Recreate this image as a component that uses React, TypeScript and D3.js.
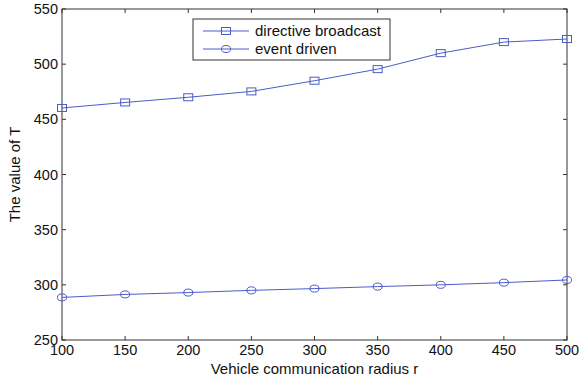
import React, { useEffect, useRef } from 'react'
import * as d3 from 'd3'

// values
const radius = [100, 150, 200, 250, 300, 350, 400, 450, 500]
const directiveBroadcast = [460.3, 465.3, 470, 475.3, 485, 495.5, 510, 520, 522.8]
const eventDriven = [288.6, 291.3, 293, 295, 296.6, 298.4, 300, 302, 304.4]
const xTicks = [100, 150, 200, 250, 300, 350, 400, 450, 500]
const yTicks = [250, 300, 350, 400, 450, 500, 550]

const W = 581
const H = 377
const margin = { top: 9, right: 14, bottom: 37, left: 62 }
const lineColor = '#4a5cc8'
const font = 'Liberation Sans, Arial, sans-serif'

function App() {
  const ref = useRef<SVGSVGElement>(null)

  useEffect(() => {
    const svg = d3.select(ref.current)
    svg.selectAll('*').remove()

    const innerW = W - margin.left - margin.right
    const innerH = H - margin.top - margin.bottom

    const x = d3.scaleLinear().domain([100, 500]).range([0, innerW])
    const y = d3.scaleLinear().domain([250, 550]).range([innerH, 0])

    const g = svg.append('g').attr('transform', `translate(${margin.left},${margin.top})`)

    // box
    g.append('rect')
      .attr('width', innerW).attr('height', innerH)
      .attr('fill', 'white').attr('stroke', '#333').attr('stroke-width', 1)

    // ticks inside, on all four sides
    const tk = 4
    xTicks.forEach(t => {
      g.append('line').attr('x1', x(t)).attr('x2', x(t)).attr('y1', innerH).attr('y2', innerH - tk).attr('stroke', '#333')
      g.append('line').attr('x1', x(t)).attr('x2', x(t)).attr('y1', 0).attr('y2', tk).attr('stroke', '#333')
      g.append('text').attr('x', x(t)).attr('y', innerH + 15)
        .attr('text-anchor', 'middle').attr('font-family', font).attr('font-size', 14.5).attr('fill', '#111')
        .text(t)
    })
    yTicks.forEach(t => {
      g.append('line').attr('x1', 0).attr('x2', tk).attr('y1', y(t)).attr('y2', y(t)).attr('stroke', '#333')
      g.append('line').attr('x1', innerW).attr('x2', innerW - tk).attr('y1', y(t)).attr('y2', y(t)).attr('stroke', '#333')
      g.append('text').attr('x', -4).attr('y', y(t) + 5)
        .attr('text-anchor', 'end').attr('font-family', font).attr('font-size', 14.5).attr('fill', '#111')
        .text(t)
    })

    const line = d3.line<number>().x((d, i) => x(radius[i])).y(d => y(d))

    g.append('path').datum(directiveBroadcast).attr('d', line)
      .attr('fill', 'none').attr('stroke', lineColor).attr('stroke-width', 1)
    g.append('path').datum(eventDriven).attr('d', line)
      .attr('fill', 'none').attr('stroke', lineColor).attr('stroke-width', 1)

    g.selectAll('.sq').data(directiveBroadcast).enter().append('rect')
      .attr('x', (d, i) => x(radius[i]) - 4.5).attr('y', d => y(d) - 3.5)
      .attr('width', 9).attr('height', 7)
      .attr('fill', 'none').attr('stroke', lineColor).attr('stroke-width', 1)

    g.selectAll('.ci').data(eventDriven).enter().append('ellipse')
      .attr('cx', (d, i) => x(radius[i])).attr('cy', d => y(d))
      .attr('rx', 4.5).attr('ry', 3.5)
      .attr('fill', 'none').attr('stroke', lineColor).attr('stroke-width', 1)

    // legend
    const lg = svg.append('g').attr('transform', 'translate(193,19)')
    lg.append('rect').attr('width', 197).attr('height', 41)
      .attr('fill', 'white').attr('stroke', '#333')
    const items = [
      { label: 'directive broadcast', shape: 'square' },
      { label: 'event driven', shape: 'circle' },
    ]
    items.forEach((it, i) => {
      const cy = 12 + i * 18
      lg.append('line').attr('x1', 10).attr('x2', 56).attr('y1', cy).attr('y2', cy)
        .attr('stroke', lineColor)
      if (it.shape === 'square') {
        lg.append('rect').attr('x', 28.5).attr('y', cy - 3.5).attr('width', 9).attr('height', 7)
          .attr('fill', 'none').attr('stroke', lineColor)
      } else {
        lg.append('ellipse').attr('cx', 33).attr('cy', cy).attr('rx', 4.5).attr('ry', 3.5)
          .attr('fill', 'none').attr('stroke', lineColor)
      }
      lg.append('text').attr('x', 62).attr('y', cy + 5)
        .attr('font-family', font).attr('font-size', 15).attr('fill', '#111')
        .text(it.label)
    })

    // axis labels
    svg.append('text').attr('x', margin.left + innerW / 2).attr('y', 374)
      .attr('text-anchor', 'middle').attr('font-family', font).attr('font-size', 15).attr('fill', '#111')
      .text('Vehicle communication radius r')
    svg.append('text')
      .attr('transform', `translate(20,${margin.top + innerH / 2}) rotate(-90)`)
      .attr('text-anchor', 'middle').attr('font-family', font).attr('font-size', 15).attr('fill', '#111')
      .text('The value of T')
  }, [])

  return (
    <div style={{ position: 'absolute', left: 0, top: 0 }}>
      <svg ref={ref} width={W} height={H} style={{ display: 'block', background: 'white' }} />
    </div>
  )
}

export default App
